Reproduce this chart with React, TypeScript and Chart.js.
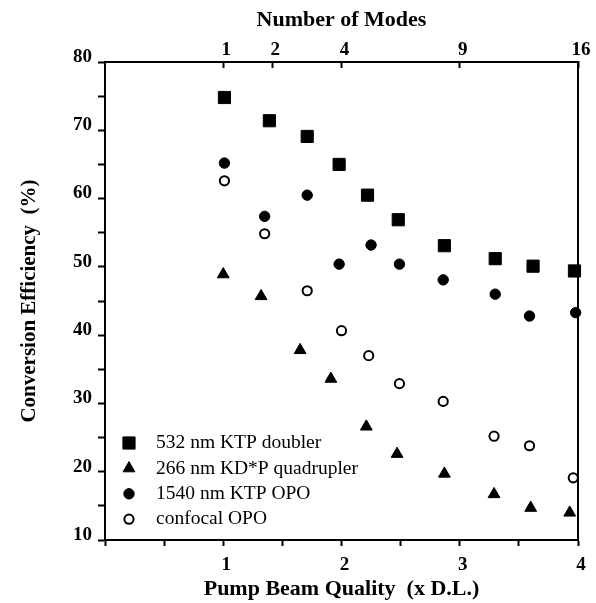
import React, { useEffect, useRef } from 'react';
import { Chart, registerables } from 'chart.js';

Chart.register(...registerables);

// ---- data ----
const SERIES_LABELS = [
  '532 nm KTP doubler',
  '266 nm KD*P quadrupler',
  '1540 nm KTP OPO',
  'confocal OPO',
];

const X_DOUBLER = [1.01, 1.39, 1.71, 1.98, 2.22, 2.48, 2.87, 3.30, 3.62, 3.97];
const Y_DOUBLER = [74.8, 71.4, 69.1, 65.0, 60.5, 56.9, 53.1, 51.2, 50.1, 49.4];

const X_QUADRUPLER = [1.0, 1.32, 1.65, 1.91, 2.21, 2.47, 2.87, 3.29, 3.6, 3.93];
const Y_QUADRUPLER = [48.9, 45.7, 37.8, 33.6, 26.6, 22.6, 19.7, 16.7, 14.7, 14.0];

const X_KTP_OPO = [1.01, 1.35, 1.71, 1.98, 2.25, 2.49, 2.86, 3.3, 3.59, 3.98];
const Y_KTP_OPO = [65.2, 57.4, 60.5, 50.4, 53.2, 50.4, 48.1, 46.0, 42.8, 43.3];

const X_CONFOCAL = [1.01, 1.35, 1.71, 2.0, 2.23, 2.49, 2.86, 3.29, 3.59, 3.96];
const Y_CONFOCAL = [62.6, 54.85, 46.5, 40.65, 37.0, 32.9, 30.3, 25.2, 23.8, 19.1];

const X_TICK_LABELS = [1, 2, 3, 4];
const Y_TICK_LABELS = [10, 20, 30, 40, 50, 60, 70, 80];
const MODES = [1, 2, 4, 9, 16];

const X_TITLE = 'Pump Beam Quality  (x D.L.)';
const Y_TITLE = 'Conversion Efficiency  (%)';
const TOP_TITLE = 'Number of Modes';

const SERIF = '"Liberation Serif", "Times New Roman", Times, serif';

function toPoints(xs: number[], ys: number[]) {
  return xs.map((x, i) => ({ x, y: ys[i] }));
}

function drawMarker(ctx: CanvasRenderingContext2D, ds: any, x: number, y: number) {
  const r = ds.pointRadius;
  ctx.save();
  ctx.fillStyle = ds.backgroundColor;
  ctx.strokeStyle = ds.borderColor;
  ctx.lineWidth = ds.borderWidth;
  ctx.beginPath();
  if (ds.pointStyle === 'rect') {
    const s = Math.SQRT1_2 * r;
    ctx.rect(x - s, y - s, 2 * s, 2 * s);
  } else if (ds.pointStyle === 'triangle') {
    let a = 0;
    ctx.moveTo(x + Math.sin(a) * r, y - Math.cos(a) * r);
    a += (2 * Math.PI) / 3;
    ctx.lineTo(x + Math.sin(a) * r, y - Math.cos(a) * r);
    a += (2 * Math.PI) / 3;
    ctx.lineTo(x + Math.sin(a) * r, y - Math.cos(a) * r);
    ctx.closePath();
  } else {
    ctx.arc(x, y, r, 0, Math.PI * 2);
  }
  ctx.fill();
  ctx.stroke();
  ctx.restore();
}

const insideLegend = {
  id: 'insideLegend',
  afterDatasetsDraw(chart: any) {
    const { ctx, chartArea } = chart;
    ctx.save();
    ctx.font = `19.5px ${SERIF}`;
    ctx.textBaseline = 'middle';
    ctx.textAlign = 'left';
    chart.data.datasets.forEach((ds: any, i: number) => {
      const cy = chartArea.bottom - 97 + i * 25.4;
      drawMarker(ctx, ds, chartArea.left + 24, cy);
      ctx.fillStyle = '#000';
      ctx.fillText(ds.label, chartArea.left + 51, cy);
    });
    ctx.restore();
  },
};

export default function App() {
  const ref = useRef<HTMLCanvasElement>(null);

  useEffect(() => {
    if (!ref.current) return;
    const tickFont = { family: SERIF, size: 19, weight: 'bold' as const };
    const titleFont = { family: SERIF, size: 22, weight: 'bold' as const };
    const border = { display: true, color: '#000', width: 2 };

    const chart = new Chart(ref.current, {
      type: 'scatter',
      data: {
        datasets: [
          {
            label: SERIES_LABELS[0],
            data: toPoints(X_DOUBLER, Y_DOUBLER),
            pointStyle: 'rect',
            pointRadius: 8.6,
            backgroundColor: '#000',
            borderColor: '#000',
            borderWidth: 1,
            clip: false,
          },
          {
            label: SERIES_LABELS[1],
            data: toPoints(X_QUADRUPLER, Y_QUADRUPLER),
            pointStyle: 'triangle',
            pointRadius: 6.8,
            backgroundColor: '#000',
            borderColor: '#000',
            borderWidth: 1,
            clip: false,
          },
          {
            label: SERIES_LABELS[2],
            data: toPoints(X_KTP_OPO, Y_KTP_OPO),
            pointStyle: 'circle',
            pointRadius: 5.2,
            backgroundColor: '#000',
            borderColor: '#000',
            borderWidth: 1,
            clip: false,
          },
          {
            label: SERIES_LABELS[3],
            data: toPoints(X_CONFOCAL, Y_CONFOCAL),
            pointStyle: 'circle',
            pointRadius: 4.6,
            backgroundColor: '#fff',
            borderColor: '#000',
            borderWidth: 2,
            clip: false,
          },
        ] as any,
      },
      options: {
        animation: false,
        responsive: false,
        devicePixelRatio: 1,
        layout: { padding: 0 },
        plugins: {
          legend: { display: false },
          tooltip: { enabled: false },
        },
        scales: {
          x: {
            type: 'linear',
            position: 'bottom',
            min: 0,
            max: 4,
            afterFit: (s: any) => {
              s.height = 63;
            },
            ticks: {
              stepSize: 0.5,
              autoSkip: false,
              maxRotation: 0,
              padding: 8,
              labelOffset: 3,
              color: '#000',
              font: tickFont,
              callback: (v: any) => (X_TICK_LABELS.includes(Number(v)) ? String(v) : ''),
            },
            grid: { drawOnChartArea: false, drawTicks: true, tickLength: 6, tickWidth: 2, tickColor: '#000' },
            border,
            title: { display: true, text: X_TITLE, color: '#000', font: titleFont, padding: { top: 0, bottom: 0 } },
          },
          xTop: {
            type: 'linear',
            position: 'top',
            min: 0,
            max: 4,
            afterBuildTicks: (s: any) => {
              s.ticks = MODES.map((m) => ({ value: Math.sqrt(m) }));
            },
            afterFit: (s: any) => {
              s.height = 62;
            },
            ticks: {
              autoSkip: false,
              maxRotation: 0,
              padding: 7,
              labelOffset: 3,
              color: '#000',
              font: tickFont,
              callback: (_v: any, i: number) => String(MODES[i]),
            },
            grid: { drawOnChartArea: false, drawTicks: true, tickLength: -6, tickWidth: 2, tickColor: '#000' },
            border,
            title: { display: true, text: TOP_TITLE, color: '#000', font: titleFont, padding: { top: 7, bottom: 0 } },
          },
          y: {
            type: 'linear',
            position: 'left',
            min: 10,
            max: 80,
            afterFit: (s: any) => {
              s.width = 105;
            },
            ticks: {
              stepSize: 5,
              autoSkip: false,
              padding: 6,
              labelOffset: -5,
              color: '#000',
              font: tickFont,
              callback: (v: any) => (Y_TICK_LABELS.includes(Number(v)) ? String(v) : ''),
            },
            grid: { drawOnChartArea: false, drawTicks: true, tickLength: 7, tickWidth: 2, tickColor: '#000' },
            border,
            title: {
              display: true,
              text: Y_TITLE,
              color: '#000',
              font: { family: SERIF, size: 21, weight: 'bold' as const },
              padding: { top: 17, bottom: 0 },
            },
          },
          yRight: {
            type: 'linear',
            position: 'right',
            min: 10,
            max: 80,
            afterFit: (s: any) => {
              s.width = 18;
            },
            ticks: { display: false },
            grid: { drawOnChartArea: false, drawTicks: false },
            border,
          },
        } as any,
      },
      plugins: [insideLegend],
    });

    return () => chart.destroy();
  }, []);

  return (
    <div style={{ position: 'fixed', left: 0, top: 0, width: 596, height: 603, background: '#fff' }}>
      <canvas ref={ref} width={596} height={603} style={{ display: 'block' }} />
    </div>
  );
}
